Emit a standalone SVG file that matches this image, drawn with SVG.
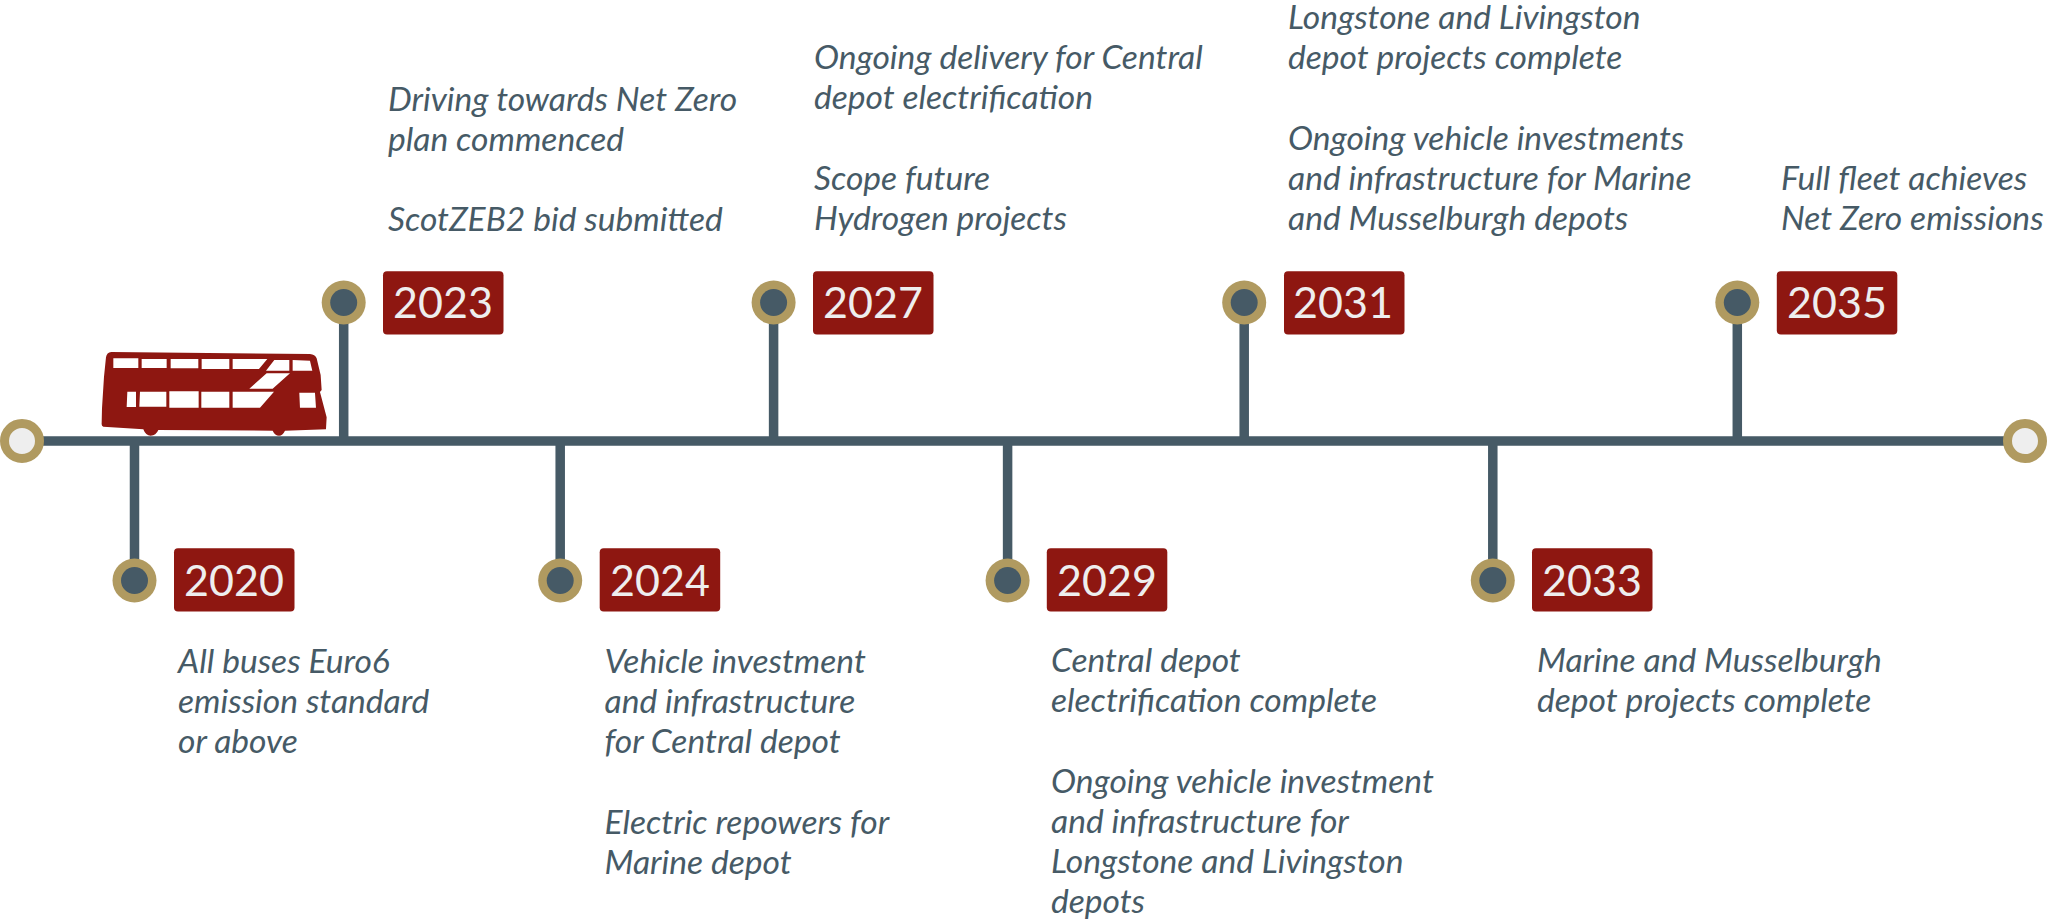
<svg xmlns="http://www.w3.org/2000/svg" width="2048" height="923" viewBox="0 0 2048 923">
<style>
.line{stroke:#465a66;stroke-width:9.500;fill:none}
.ring{fill:#b09a60}
.dot{fill:#465a66}
.end{fill:#eeeeee;stroke:#b09a60;stroke-width:9}
.badge{fill:#8e1711}
.year{font:43px Lato,"Liberation Sans",sans-serif;fill:#eeeeee;text-anchor:middle}
.note{font:italic 33.6px Lato,"Liberation Sans",sans-serif;fill:#465a66}
.win{fill:#fff}
</style>
<rect width="2048" height="923" fill="#fff"/>
<g id="connectors">
<path class="line" d="M40 441H2008M134.500 441V580.500M343.700 441V302.500M560.200 441V580.500M773.600 441V302.500M1007.600 441V580.500M1244.200 441V302.500M1492.800 441V580.500M1737.300 441V302.500"/>
</g>
<g id="start"><circle class="end" cx="22" cy="441" r="17.500"/></g>
<g id="end"><circle class="end" cx="2025" cy="441" r="17.500"/></g>
<g id="bus" transform="translate(90 340) scale(.3333)">
<path fill="#8e1711" d="M48 52Q50 37 64 36L660 42Q675 43 680 55L692 105L695 150L690 156L710 232L708 268L585 272Q578 287 567 287Q555 287 548 272L205 270Q198 287 182 287Q167 287 160 268L40 260Q34 258 35 250L36 205L42 110Z"/>
<path class="win" d="M70 55H145V84H70ZM155 57H230V84H155ZM242 57H325V85H242ZM335 57H418V87H335ZM428 57H532L507 87H428ZM553 60H598V92H528ZM608 60L660 62L667 92H608ZM530 100H600L548 146H478ZM112 155H138V201H110ZM150 155H229V200H148ZM238 154H326V203H238ZM334 155H418V203H334ZM428 155H552L510 203H428ZM628 158H675L678 203H630Z"/>
</g>
<g id="n2020"><circle class="ring" cx="134.500" cy="580.500" r="22"/><circle class="dot" cx="134.500" cy="580.500" r="13.500"/><rect class="badge" x="174" y="548.300" width="120.500" height="63.300" rx="4"/><text class="year" x="234" y="595.500">2020</text>
<text class="note"><tspan x="178" y="673">All buses Euro6</tspan><tspan x="178" y="713">emission standard</tspan><tspan x="178" y="753">or above</tspan></text></g>
<g id="n2023"><circle class="ring" cx="343.700" cy="302.500" r="22"/><circle class="dot" cx="343.700" cy="302.500" r="13.500"/><rect class="badge" x="383" y="271.300" width="120.500" height="63.300" rx="4"/><text class="year" x="443" y="318">2023</text>
<text class="note"><tspan x="388" y="111">Driving towards Net Zero</tspan><tspan x="388" y="151">plan commenced</tspan><tspan x="388" y="231">ScotZEB2 bid submitted</tspan></text></g>
<g id="n2024"><circle class="ring" cx="560.200" cy="580.500" r="22"/><circle class="dot" cx="560.200" cy="580.500" r="13.500"/><rect class="badge" x="599.700" y="548.300" width="120.500" height="63.300" rx="4"/><text class="year" x="660" y="595.500">2024</text>
<text class="note"><tspan x="604.500" y="673">Vehicle investment</tspan><tspan x="604.500" y="713">and infrastructure</tspan><tspan x="604.500" y="753">for Central depot</tspan><tspan x="604.500" y="834">Electric repowers for</tspan><tspan x="604.500" y="874">Marine depot</tspan></text></g>
<g id="n2027"><circle class="ring" cx="773.600" cy="302.500" r="22"/><circle class="dot" cx="773.600" cy="302.500" r="13.500"/><rect class="badge" x="813" y="271.300" width="120.500" height="63.300" rx="4"/><text class="year" x="873" y="318">2027</text>
<text class="note"><tspan x="814" y="69">Ongoing delivery for Central</tspan><tspan x="814" y="109">depot electrification</tspan><tspan x="814" y="190">Scope future</tspan><tspan x="814" y="230">Hydrogen projects</tspan></text></g>
<g id="n2029"><circle class="ring" cx="1007.600" cy="580.500" r="22"/><circle class="dot" cx="1007.600" cy="580.500" r="13.500"/><rect class="badge" x="1046.800" y="548.300" width="120.500" height="63.300" rx="4"/><text class="year" x="1107" y="595.500">2029</text>
<text class="note"><tspan x="1051" y="672">Central depot</tspan><tspan x="1051" y="712">electrification complete</tspan><tspan x="1051" y="793">Ongoing vehicle investment</tspan><tspan x="1051" y="833">and infrastructure for</tspan><tspan x="1051" y="873">Longstone and Livingston</tspan><tspan x="1051" y="913">depots</tspan></text></g>
<g id="n2031"><circle class="ring" cx="1244.200" cy="302.500" r="22"/><circle class="dot" cx="1244.200" cy="302.500" r="13.500"/><rect class="badge" x="1284" y="271.300" width="120.500" height="63.300" rx="4"/><text class="year" x="1343" y="318">2031</text>
<text class="note"><tspan x="1288" y="29">Longstone and Livingston</tspan><tspan x="1288" y="69">depot projects complete</tspan><tspan x="1288" y="150">Ongoing vehicle investments</tspan><tspan x="1288" y="190">and infrastructure for Marine</tspan><tspan x="1288" y="230">and Musselburgh depots</tspan></text></g>
<g id="n2033"><circle class="ring" cx="1492.800" cy="580.500" r="22"/><circle class="dot" cx="1492.800" cy="580.500" r="13.500"/><rect class="badge" x="1532" y="548.300" width="120.500" height="63.300" rx="4"/><text class="year" x="1592" y="595.500">2033</text>
<text class="note"><tspan x="1537" y="672">Marine and Musselburgh</tspan><tspan x="1537" y="712">depot projects complete</tspan></text></g>
<g id="n2035"><circle class="ring" cx="1737.300" cy="302.500" r="22"/><circle class="dot" cx="1737.300" cy="302.500" r="13.500"/><rect class="badge" x="1776.800" y="271.300" width="120.500" height="63.300" rx="4"/><text class="year" x="1837" y="318">2035</text>
<text class="note"><tspan x="1781" y="190">Full fleet achieves</tspan><tspan x="1781" y="230">Net Zero emissions</tspan></text></g>
</svg>
